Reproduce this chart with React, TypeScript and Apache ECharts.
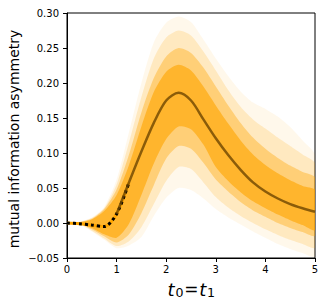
import React, { useEffect, useRef } from "react";
import * as echarts from "echarts";

const tGrid = [0, 0.25, 0.5, 0.75, 1, 1.25, 1.5, 1.75, 2, 2.25, 2.5, 2.75, 3, 3.25, 3.5, 3.75, 4, 4.25, 4.5, 4.75, 5];

const meanCurve = [0, -0.001, -0.003, -0.005, 0.013, 0.058, 0.102, 0.143, 0.175, 0.186, 0.175, 0.148, 0.121, 0.097, 0.076, 0.058, 0.045, 0.035, 0.027, 0.021, 0.016];

const outerHigh = [0, 0.002, 0.008, 0.023, 0.062, 0.13, 0.2, 0.258, 0.286, 0.295, 0.287, 0.262, 0.235, 0.21, 0.188, 0.172, 0.163, 0.152, 0.137, 0.118, 0.097];
const outerLow = [0, -0.002, -0.012, -0.024, -0.036, -0.032, -0.02, 0.01, 0.036, 0.05, 0.047, 0.035, 0.02, 0.008, -0.002, -0.012, -0.021, -0.03, -0.037, -0.043, -0.048];

const outer2High = [0, 0.0015, 0.007, 0.021, 0.055, 0.115, 0.18, 0.235, 0.265, 0.275, 0.268, 0.245, 0.218, 0.19, 0.166, 0.148, 0.135, 0.122, 0.11, 0.098, 0.085];
const outer2Low = [0, -0.0015, -0.011, -0.022, -0.033, -0.026, -0.006, 0.027, 0.06, 0.08, 0.077, 0.058, 0.037, 0.022, 0.01, 0.0, -0.009, -0.017, -0.024, -0.03, -0.035];

const midHigh = [0, 0.001, 0.006, 0.02, 0.048, 0.098, 0.158, 0.207, 0.238, 0.25, 0.243, 0.222, 0.195, 0.168, 0.143, 0.122, 0.106, 0.093, 0.082, 0.073, 0.065];
const midLow = [0, -0.001, -0.009, -0.019, -0.028, -0.016, 0.014, 0.054, 0.092, 0.11, 0.106, 0.086, 0.062, 0.045, 0.03, 0.018, 0.009, 0.0, -0.007, -0.013, -0.018];

const coreHigh = [0, 0.001, 0.005, 0.017, 0.04, 0.083, 0.138, 0.187, 0.216, 0.226, 0.218, 0.195, 0.168, 0.142, 0.118, 0.098, 0.083, 0.071, 0.061, 0.053, 0.047];
const coreLow = [0, -0.001, -0.007, -0.016, -0.021, -0.001, 0.04, 0.085, 0.12, 0.138, 0.134, 0.112, 0.08, 0.06, 0.044, 0.031, 0.021, 0.012, 0.004, -0.003, -0.01];

const yLabelText = "mutual information asymmetry";

const pairs = (vals: (number | null)[]) => tGrid.map((t, i) => [t, vals[i]]);

function band(name: string, lo: number[], hi: number[], color: string) {
  return {
    type: "custom",
    name,
    silent: true,
    clip: true,
    data: [[0, 0]],
    renderItem: (_params: any, api: any) => {
      const pts: number[][] = [];
      for (let i = 0; i < tGrid.length; i++) pts.push(api.coord([tGrid[i], hi[i]]));
      for (let i = tGrid.length - 1; i >= 0; i--) pts.push(api.coord([tGrid[i], lo[i]]));
      return {
        type: "polygon",
        shape: { points: pts, smooth: 0.25 },
        style: { fill: color, stroke: "none" },
      };
    },
  };
}

export default function App() {
  const ref = useRef<HTMLDivElement>(null);
  useEffect(() => {
    if (!ref.current) return;
    const chart = echarts.init(ref.current, null, { renderer: "svg" });
    const font = "DejaVu Sans";
    const meanEarly = meanCurve.map((v, i) => (tGrid[i] <= 1.25 ? v : null));
    const meanLate = meanCurve.map((v, i) => (tGrid[i] >= 1.0 ? v : null));
    chart.setOption({
      animation: false,
      grid: {
        left: 67,
        top: 13,
        right: 11,
        bottom: 49,
        show: true,
        borderColor: "#000",
        borderWidth: 1,
        backgroundColor: "transparent",
      },
      xAxis: {
        type: "value",
        min: 0,
        max: 5,
        interval: 1,
        axisLine: { show: true, onZero: false, lineStyle: { color: "#000", width: 1 } },
        axisTick: { show: true, length: 4, lineStyle: { color: "#000" } },
        axisLabel: { color: "#000", fontFamily: font, fontSize: 10, margin: 6 },
        splitLine: { show: false },
      },
      yAxis: {
        type: "value",
        min: -0.05,
        max: 0.3,
        interval: 0.05,
        axisLine: { show: true, onZero: false, lineStyle: { color: "#000", width: 1 } },
        axisTick: { show: true, length: 4, lineStyle: { color: "#000" } },
        axisLabel: {
          show: true,
          color: "#000",
          fontFamily: font,
          fontSize: 10,
          margin: 8,
          formatter: (v: number) => Number(v).toFixed(2).replace("-", "\u2212"),
        },
        splitLine: { show: false },
      },
      graphic: [
        {
          type: "text",
          x: 14,
          y: 139,
          rotation: Math.PI / 2,
          style: { text: yLabelText, fontFamily: font, fontSize: 14, fill: "#000", align: "center", verticalAlign: "middle" },
        },
        { type: "text", x: 167.5, y: 289, style: { text: "t", fontFamily: font, fontStyle: "italic", fontSize: 18, fill: "#000", align: "left", verticalAlign: "middle" } },
        { type: "text", x: 175.5, y: 292.5, style: { text: "0", fontFamily: font, fontSize: 12.6, fill: "#000", align: "left", verticalAlign: "middle" } },
        { type: "text", x: 191.3, y: 289, style: { text: "=", fontFamily: font, fontSize: 17, fill: "#000", align: "center", verticalAlign: "middle" } },
        { type: "text", x: 199.3, y: 289, style: { text: "t", fontFamily: font, fontStyle: "italic", fontSize: 18, fill: "#000", align: "left", verticalAlign: "middle" } },
        { type: "text", x: 207, y: 292.5, style: { text: "1", fontFamily: font, fontSize: 12.6, fill: "#000", align: "left", verticalAlign: "middle" } },
      ],
      series: [
        band("outer", outerLow, outerHigh, "rgba(255,165,0,0.08)"),
        band("outer2", outer2Low, outer2High, "rgba(255,165,0,0.18)"),
        band("mid", midLow, midHigh, "rgba(255,165,0,0.38)"),
        band("core", coreLow, coreHigh, "rgba(255,165,0,0.62)"),
        {
          type: "line",
          name: "mean-orange",
          data: pairs(meanEarly),
          symbol: "none",
          smooth: 0.3,
          silent: true,
          lineStyle: { color: "#FFA500", width: 3 },
        },
        {
          type: "line",
          name: "mean-black",
          data: pairs(meanEarly),
          symbol: "none",
          smooth: 0.3,
          silent: true,
          lineStyle: { color: "#000", width: 3, type: [3, 3] },
        },
        {
          type: "line",
          name: "mean-late",
          data: pairs(meanLate),
          symbol: "none",
          smooth: 0.3,
          silent: true,
          lineStyle: { color: "rgba(110,70,0,0.8)", width: 2.5 },
        },
      ],
    });
    return () => chart.dispose();
  }, []);
  return <div ref={ref} style={{ position: "absolute", left: 0, top: 0, width: 326, height: 307 }} />;
}
